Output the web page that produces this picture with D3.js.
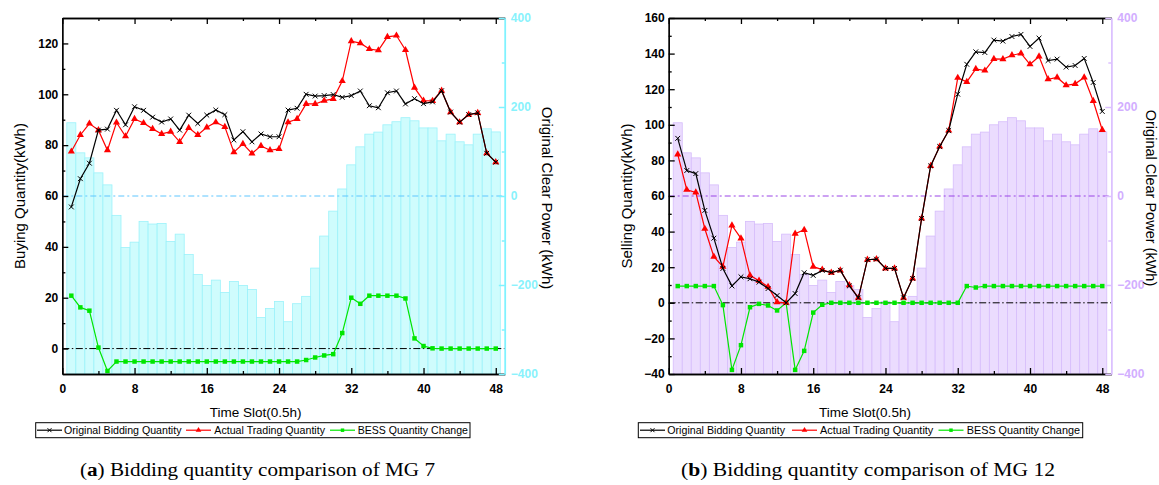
<!DOCTYPE html>
<html>
<head>
<meta charset="utf-8">
<script src="https://d3js.org/d3.v7.min.js"></script>
<style>
  body { margin: 0; background: #fff; }
  svg text { font-family: "Liberation Sans", Arial, sans-serif; }
  .tick text { font-weight: bold; font-size: 12px; }
  .caption { font-family: "Liberation Serif", "Times New Roman", serif; font-size: 18px; }
</style>
</head>
<body>
<svg id="chart" width="1159" height="485"></svg>
<script>
// time slots (0.5h)
const slots = [1, 2, 3, 4, 5, 6, 7, 8, 9, 10, 11, 12, 13, 14, 15, 16, 17, 18, 19, 20, 21, 22, 23, 24,
  25, 26, 27, 28, 29, 30, 31, 32, 33, 34, 35, 36, 37, 38, 39, 40, 41, 42, 43, 44, 45, 46, 47, 48];

// original clear power (right axis, kWh) - same in both panels
const clearPower = [164.6, 97, 85.7, 52, 25, -43.5, -115.7, -103.7, -57, -63, -61.6, -102, -85.7, -131.5,
  -176.6, -201, -189, -217, -192, -201, -210, -273, -253, -237, -282.5, -242, -225.5, -162, -90, -34,
  15.8, 70, 110.5, 139, 143.6, 160, 166.9, 176, 169, 153, 153, 124, 139, 121.8, 115, 139, 151, 144];

// MG 7 buying quantity
const mg7Original = [55.7, 66.8, 72.9, 85.9, 86.3, 93.7, 88, 95.1, 93.7, 91, 89.1, 90.3, 85.9, 91.8, 88.5,
  91.8, 93.8, 92, 82, 85.3, 81.3, 84.4, 83.3, 83.3, 93.8, 94.5, 100, 99.3, 99.5, 99.9, 98.8, 99.5, 101.3,
  95.5, 94.7, 100.6, 101.3, 96.2, 98.3, 96.3, 97, 101.4, 93, 89, 92, 92.7, 76.8, 73.3];
const mg7Actual = [77.5, 84, 88.5, 85.9, 78, 88.9, 83.5, 90.3, 88.7, 86.4, 84.4, 85.3, 81.3, 86.8, 84, 87,
  89, 87.2, 77.2, 80.5, 76.7, 79.7, 78, 78.5, 89, 90.3, 96.2, 96.2, 97.5, 98.2, 105.2, 120.9, 120.1, 117.8,
  117.3, 122.6, 123.1, 117.4, 102.6, 97.5, 97.4, 101.4, 93, 89, 92, 92.7, 76.8, 73.3];
const mg7Bess = [20.8, 16.2, 14.9, 0.4, -8.8, -5.1, -5.1, -5.1, -5.1, -5.1, -5.1, -5.1, -5.1, -5.1, -5.1,
  -5.1, -5.1, -5.1, -5.1, -5.1, -5.1, -5.1, -5.1, -5.1, -5.1, -5.1, -4.5, -3.5, -2.7, -2.2, 6.1, 20, 17.6,
  20.8, 20.8, 20.8, 20.8, 19.7, 4, 1, 0.1, 0, 0, 0, 0, 0, 0, 0];

// MG 12 selling quantity
const mg12Original = [92.4, 74.3, 72.6, 51.9, 36.3, 19.3, 9.5, 14.6, 13.5, 11.6, 8, 4.1, 0, 5.2, 16.9, 15.4,
  18.2, 17, 18.3, 9.5, 2.8, 24.2, 24.5, 19.3, 19.3, 2.8, 13.7, 47.4, 76.9, 87.8, 96.8, 117.2, 134, 141,
  140.6, 147.6, 147, 149.6, 150.8, 144, 148.7, 136.1, 136.9, 132.4, 133.3, 137.3, 123.8, 107.5];
const mg12Actual = [83.4, 63.5, 62, 41.6, 25.9, 20.3, 43.5, 36.2, 15.4, 12.4, 9, 0.4, 0, 38.8, 41, 20.3,
  18.6, 16.9, 18.2, 9.9, 2.8, 24.2, 24.5, 19.3, 19.3, 2.8, 13.7, 47.4, 76.9, 87.8, 96.8, 126.4, 124.1,
  131.4, 130.5, 137, 136.9, 139.1, 140.1, 134, 138.4, 125.6, 126.6, 122.2, 123, 126.6, 113.4, 97.1];
const mg12Bess = [9.4, 9.4, 9.4, 9.4, 9.4, -1.3, -37.7, -23.8, -2.5, -0.6, -1.5, -4.3, 0, -37.7, -27, -5.5,
  -1.1, 0, 0, 0, 0, 0, 0, 0, 0, 0, 0, 0, 0, 0, 0, 0, 9.4, 8.6, 9.4, 9.4, 9.4, 9.4, 9.4, 9.4, 9.4, 9.4,
  9.4, 9.4, 9.4, 9.4, 9.4, 9.4];

const xTicks = [0, 8, 16, 24, 32, 40, 48];
const xMinor = [4, 12, 20, 28, 36, 44];
const rightTicks = [-400, -200, 0, 200, 400];
const rightMinor = [-300, -100, 100, 300];
const legendNames = ['Original Bidding Quantity', 'Actual Trading Quantity', 'BESS Quantity Change'];

var svg = d3.select('#chart');
var top_ = 18, bottom = 374;

function marker(sel, kind, s) {
  if (kind === 'cross') {
    sel.append('path')
      .attr('d', 'M' + (-s) + ',' + (-s) + 'L' + s + ',' + s + 'M' + (-s) + ',' + s + 'L' + s + ',' + (-s))
      .attr('stroke', '#000').attr('stroke-width', 1).attr('fill', 'none');
  } else if (kind === 'tri') {
    sel.append('path').attr('d', d3.symbol(d3.symbolTriangle, s)).attr('fill', '#ff0000');
  } else {
    sel.append('path').attr('d', d3.symbol(d3.symbolSquare, s)).attr('fill', '#00e600');
  }
}

function drawPanel(p) {
  var g = svg.append('g');
  var x = d3.scaleLinear().domain([0, 49]).range([p.left, p.right]);
  var yL = d3.scaleLinear().domain(p.leftDomain).range([bottom, top_]);
  var yR = d3.scaleLinear().domain([-400, 400]).range([bottom, top_]);
  var bw = x(1) - x(0);

  // bars of original clear power, from the bottom of the axis
  g.append('g').selectAll('rect').data(clearPower).join('rect')
    .attr('x', (d, i) => x(slots[i]) - bw / 2)
    .attr('y', d => yR(d))
    .attr('width', bw)
    .attr('height', d => yR(-400) - yR(d))
    .attr('fill', p.barFill)
    .attr('stroke', p.barStroke)
    .attr('stroke-width', 0.8);

  // zero reference lines
  g.append('line').attr('x1', p.left).attr('x2', p.right)
    .attr('y1', yR(0)).attr('y2', yR(0))
    .attr('stroke', p.refColor).attr('stroke-width', 1).attr('stroke-dasharray', '6,3,2,3');
  g.append('line').attr('x1', p.left).attr('x2', p.right)
    .attr('y1', yL(0)).attr('y2', yL(0))
    .attr('stroke', '#000').attr('stroke-width', 1).attr('stroke-dasharray', '7,2.5,1.5,2.5');

  var line = d3.line().x((d, i) => x(slots[i])).y(d => yL(d));
  var series = [
    { data: p.bess, color: '#00e600', kind: 'sq', size: 20 },
    { data: p.actual, color: '#ff0000', kind: 'tri', size: 22 },
    { data: p.original, color: '#000', kind: 'cross', size: 2.4 }
  ];
  series.forEach(function (s) {
    g.append('path').datum(s.data).attr('d', line)
      .attr('fill', 'none').attr('stroke', s.color).attr('stroke-width', 1.2);
    g.append('g').selectAll('g').data(s.data).join('g')
      .attr('transform', (d, i) => 'translate(' + x(slots[i]) + ',' + yL(d) + ')')
      .each(function () { marker(d3.select(this), s.kind, s.size); });
  });

  // axes
  var ax = g.append('g');
  ax.append('g').attr('transform', 'translate(0,' + bottom + ')')
    .call(d3.axisBottom(x).tickValues(xTicks).tickSizeInner(-6).tickSizeOuter(0).tickPadding(10));
  ax.append('g').attr('transform', 'translate(0,' + bottom + ')')
    .call(d3.axisBottom(x).tickValues(xMinor).tickSizeInner(-3).tickSizeOuter(0).tickFormat(''));
  ax.append('g').attr('transform', 'translate(0,' + top_ + ')')
    .call(d3.axisTop(x).tickValues(xTicks).tickSizeInner(-6).tickSizeOuter(0).tickFormat(''));
  ax.append('g').attr('transform', 'translate(0,' + top_ + ')')
    .call(d3.axisTop(x).tickValues(xMinor).tickSizeInner(-3).tickSizeOuter(0).tickFormat(''));
  ax.append('g').attr('transform', 'translate(' + p.left + ',0)')
    .call(d3.axisLeft(yL).tickValues(p.leftTicks).tickSizeInner(-6).tickSizeOuter(0).tickPadding(4));
  ax.append('g').attr('transform', 'translate(' + p.left + ',0)')
    .call(d3.axisLeft(yL).tickValues(p.leftMinor).tickSizeInner(-3).tickSizeOuter(0).tickFormat(''));
  ax.selectAll('path, line').attr('stroke', '#000').attr('stroke-width', 1.3);
  ax.selectAll('text').attr('fill', '#000');

  var axR = g.append('g');
  axR.append('g').attr('transform', 'translate(' + p.right + ',0)')
    .call(d3.axisRight(yR).tickValues(rightTicks).tickSizeInner(-6).tickSizeOuter(0).tickPadding(6));
  axR.append('g').attr('transform', 'translate(' + p.right + ',0)')
    .call(d3.axisRight(yR).tickValues(rightMinor).tickSizeInner(-3).tickSizeOuter(0).tickFormat(''));
  axR.selectAll('path, line').attr('stroke', p.rightColor).attr('stroke-width', 1.5);
  axR.selectAll('text').attr('fill', p.rightText);

  // axis titles
  g.append('text').attr('transform', 'translate(' + p.yTitleX + ',196) rotate(-90)')
    .attr('text-anchor', 'middle').attr('font-size', 15).text(p.yTitle);
  g.append('text').attr('transform', 'translate(' + p.rTitleX + ',198) rotate(90)')
    .attr('text-anchor', 'middle').attr('font-size', p.rTitleSize).text('Original Clear Power (kWh)');
  g.append('text').attr('x', p.xTitleX).attr('y', 416.5)
    .attr('text-anchor', 'middle').attr('font-size', 13.5).text('Time Slot(0.5h)');

  // legend
  var lg = g.append('g');
  lg.append('rect').attr('x', p.legX).attr('y', 422.7).attr('width', p.legW).attr('height', 15)
    .attr('fill', '#fff').attr('stroke', '#000').attr('stroke-width', 1);
  var kinds = [['#000', 'cross', 2], ['#ff0000', 'tri', 14], ['#00e600', 'sq', 12]];
  legendNames.forEach(function (name, k) {
    var x0 = p.legItems[k][0], tx = p.legItems[k][1], tw = p.legItems[k][2];
    lg.append('line').attr('x1', x0).attr('x2', x0 + 25).attr('y1', 430.2).attr('y2', 430.2)
      .attr('stroke', kinds[k][0]).attr('stroke-width', 1.2);
    var m = lg.append('g').attr('transform', 'translate(' + (x0 + 12.5) + ',430.2)');
    marker(m, kinds[k][1], kinds[k][2]);
    lg.append('text').attr('x', tx).attr('y', 434).attr('font-size', 10.6)
      .attr('textLength', tw).attr('lengthAdjust', 'spacingAndGlyphs').text(name);
  });

  // caption
  var cap = g.append('text').attr('class', 'caption').attr('x', p.capX).attr('y', 476)
    .attr('text-anchor', 'middle').attr('textLength', p.capW).attr('lengthAdjust', 'spacingAndGlyphs');
  cap.append('tspan').text('(');
  cap.append('tspan').attr('font-weight', 'bold').text(p.letter);
  cap.append('tspan').text(') ' + p.caption);
}

drawPanel({
  left: 62.3, right: 504.8,
  leftDomain: [-10, 130], leftTicks: [0, 20, 40, 60, 80, 100, 120], leftMinor: [10, 30, 50, 70, 90, 110],
  original: mg7Original, actual: mg7Actual, bess: mg7Bess,
  barFill: '#cffcfd', barStroke: '#9cf2fa', refColor: '#5ec6ff',
  rightColor: '#80f2ff', rightText: '#88f2fc',
  yTitle: 'Buying Quantity(kWh)', yTitleX: 24.5, rTitleX: 542, rTitleSize: 15, xTitleX: 255.7,
  legX: 35.7, legW: 434.3,
  legItems: [[37, 64, 117.5], [186, 214.3, 110.7], [330, 357.7, 110.3]],
  capX: 257.5, capW: 355, letter: 'a', caption: 'Bidding quantity comparison of MG 7'
});

drawPanel({
  left: 668.7, right: 1111.3,
  leftDomain: [-40, 160], leftTicks: [-40, -20, 0, 20, 40, 60, 80, 100, 120, 140, 160],
  leftMinor: [-30, -10, 10, 30, 50, 70, 90, 110, 130, 150],
  original: mg12Original, actual: mg12Actual, bess: mg12Bess,
  barFill: '#ebdcfe', barStroke: '#d6bdfb', refColor: '#9a44e6',
  rightColor: '#dcc2ff', rightText: '#d2aeff',
  yTitle: 'Selling Quantity(kWh)', yTitleX: 631.7, rTitleX: 1145.5, rTitleSize: 14.5, xTitleX: 865,
  legX: 638.3, legW: 444.4,
  legItems: [[640, 667.3, 117.7], [792, 820, 113.3], [938.5, 966.7, 113.3]],
  capX: 868, capW: 374, letter: 'b', caption: 'Bidding quantity comparison of MG 12'
});
</script>
</body>
</html>
